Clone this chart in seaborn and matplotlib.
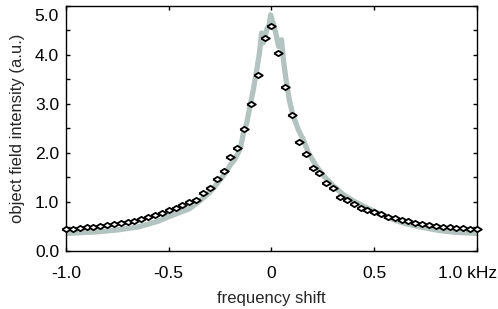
import matplotlib.pyplot as plt
import numpy as np
import seaborn as sns
from matplotlib.ticker import MultipleLocator
from matplotlib.transforms import ScaledTranslation

sns.set_style('ticks')
plt.rcParams['font.family'] = ['Liberation Sans', 'DejaVu Sans']

# fitted curve (open diamonds), 61 samples from -1 to 1 kHz
fit_x = np.linspace(-1.0, 1.0, 61)
fit_y = [0.44, 0.45, 0.47, 0.48, 0.50, 0.52, 0.53, 0.55, 0.57, 0.60,
         0.62, 0.65, 0.69, 0.73, 0.78, 0.84, 0.87, 0.94, 1.01, 1.05,
         1.19, 1.28, 1.46, 1.64, 1.91, 2.10, 2.48, 2.99, 3.59, 4.35,
         4.59,
         4.04, 3.34, 2.77, 2.22, 1.97, 1.69, 1.59, 1.38, 1.28, 1.11,
         1.04, 0.96, 0.88, 0.84, 0.79, 0.75, 0.70, 0.67, 0.64, 0.61,
         0.58, 0.56, 0.54, 0.52, 0.50, 0.49, 0.47, 0.46, 0.45, 0.44]

# measured spectrum (thick grey trace)
meas_x = [-1.00, -0.95, -0.90, -0.85, -0.80, -0.75, -0.70, -0.65, -0.60, -0.55,
          -0.50, -0.45, -0.40, -0.35, -0.30, -0.25, -0.22, -0.20, -0.18, -0.16,
          -0.15, -0.137, -0.12, -0.105, -0.088, -0.072, -0.059, -0.048, -0.040, -0.030,
          -0.023, -0.012, -0.004, 0.004, 0.012, 0.025, 0.035, 0.042, 0.049, 0.058,
          0.071, 0.087, 0.106, 0.12, 0.131, 0.155, 0.18, 0.20, 0.22, 0.25,
          0.30, 0.35, 0.40, 0.45, 0.50, 0.55, 0.60, 0.65, 0.70, 0.75,
          0.80, 0.85, 0.90, 0.95, 1.00]
meas_y = [0.36, 0.37, 0.38, 0.39, 0.41, 0.43, 0.46, 0.49, 0.55, 0.61,
          0.70, 0.78, 0.86, 1.02, 1.20, 1.45, 1.62, 1.76, 1.86, 2.02,
          2.12, 2.40, 2.62, 2.95, 3.30, 3.69, 4.03, 4.45, 4.25, 4.40,
          4.52, 4.60, 4.82, 4.70, 4.60, 4.37, 4.17, 4.20, 4.31, 3.90,
          3.49, 3.08, 2.74, 2.60, 2.47, 2.27, 2.00, 1.86, 1.72, 1.55,
          1.33, 1.15, 1.02, 0.91, 0.81, 0.71, 0.63, 0.56, 0.51, 0.47,
          0.43, 0.40, 0.38, 0.37, 0.36]

x_ticks = [-1.0, -0.5, 0.0, 0.5, 1.0]
x_labels = ['-1.0', '-0.5', '0', '0.5', '1.0 kHz']
y_ticks = [0, 1, 2, 3, 4, 5]
y_labels = ['0.0', '1.0', '2.0', '3.0', '4.0', '5.0']

fig = plt.figure(figsize=(4.98, 3.09), dpi=100)
ax = fig.add_axes([0.1325, 0.1877, 0.8253, 0.7929])

sns.lineplot(x=meas_x, y=meas_y, color='#b3c3bf', lw=3.8, sort=False,
             estimator=None, ax=ax, zorder=2)

diamond = [(-1, 0), (0, 0.62), (1, 0), (0, -0.62), (-1, 0)]
sns.scatterplot(x=fit_x, y=fit_y, marker=diamond, s=38, color='white',
                edgecolor='black', linewidth=1.3, ax=ax, zorder=3, clip_on=False)

ax.set_xlim(-1.0, 1.0)
ax.set_ylim(0, 5.0)
ax.set_xticks(x_ticks)
ax.set_xticklabels(x_labels)
ax.set_yticks(y_ticks)
ax.set_yticklabels(y_labels)
ax.yaxis.set_minor_locator(MultipleLocator(0.5))
ax.tick_params(which='both', direction='in', top=True, right=True,
               length=3, width=1, labelsize=12.5, colors='black')
ax.tick_params(axis='x', pad=11)
ax.tick_params(axis='y', pad=5)
for sp in ax.spines.values():
    sp.set_linewidth(1.0)
    sp.set_color('black')

ax.set_xlabel('frequency shift', fontsize=12, labelpad=7)
ax.set_ylabel('object field intensity (a.u.)', fontsize=12, labelpad=7)

# nudge a couple of tick labels like in the original
lab = ax.get_xticklabels()[-1]
lab.set_transform(lab.get_transform() + ScaledTranslation(-0.09, 0, fig.dpi_scale_trans))
lab = ax.get_yticklabels()[-1]
lab.set_transform(lab.get_transform() + ScaledTranslation(0, -0.09, fig.dpi_scale_trans))

fig.savefig('out.png', dpi=100)
